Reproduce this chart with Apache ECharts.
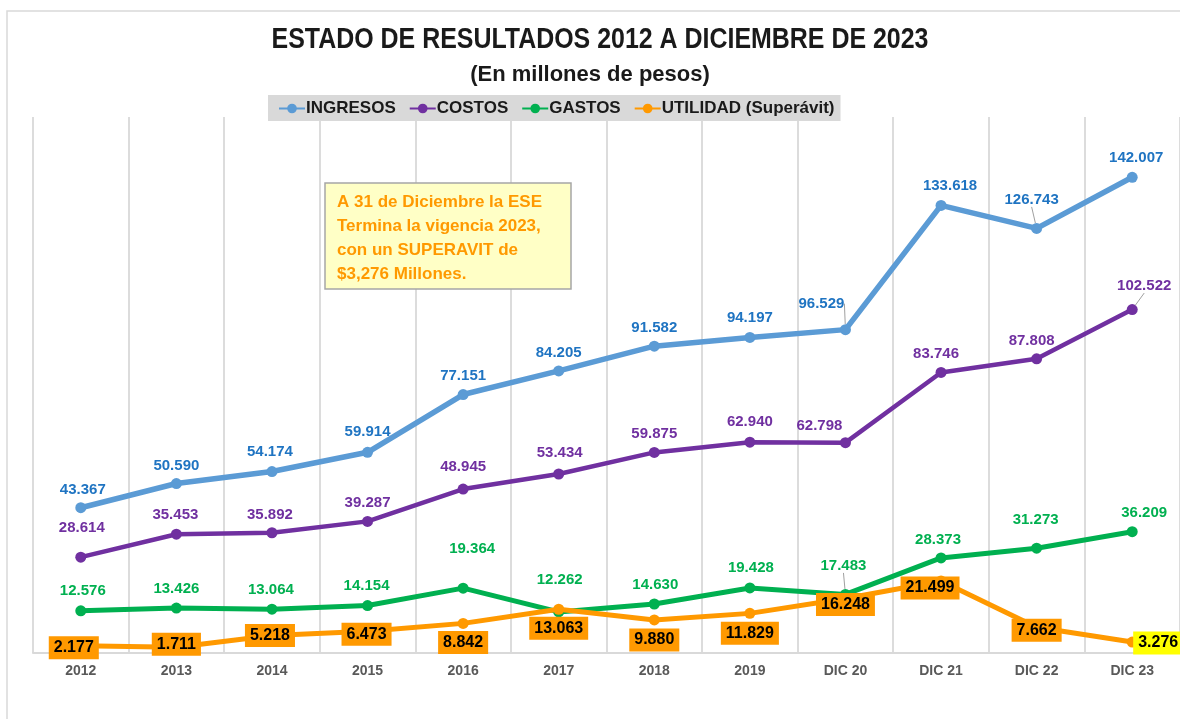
<!DOCTYPE html>
<html>
<head>
<meta charset="utf-8">
<script src="https://cdn.jsdelivr.net/npm/echarts@6/dist/echarts.min.js"></script>
<style>
  html, body { margin: 0; padding: 0; background: #fff; }
  #chart { width: 1180px; height: 719px; }
</style>
</head>
<body>
<div id="chart"></div>
<script>
const years = ["2012", "2013", "2014", "2015", "2016", "2017", "2018", "2019", "DIC 20", "DIC 21", "DIC 22", "DIC 23"];
const ingresos = [43367, 50590, 54174, 59914, 77151, 84205, 91582, 94197, 96529, 133618, 126743, 142007];
const costos = [28614, 35453, 35892, 39287, 48945, 53434, 59875, 62940, 62798, 83746, 87808, 102522];
const gastos = [12576, 13426, 13064, 14154, 19364, 12262, 14630, 19428, 17483, 28373, 31273, 36209];
const utilidad = [2177, 1711, 5218, 6473, 8842, 13063, 9880, 11829, 16248, 21499, 7662, 3276];

// label offsets (label centre minus point), px
const ingresosOff = [[2,-18],[0,-18],[-2,-20],[0,-20],[0,-19],[0,-18],[0,-18],[0,-20],[-24,-26],[9,-20],[-5,-29],[4,-19]];
const costosOff = [[1,-29],[-1,-19],[-2,-18],[0,-19],[0,-22],[1,-21],[0,-19],[0,-20],[-26,-17],[-5,-19],[-5,-18],[12,-24]];
const gastosOff = [[2,-20],[0,-19],[-1,-19],[-1,-20],[9,-39],[1,-32],[1,-19],[1,-20],[-2,-29],[-3,-18],[-1,-28],[12,-19]];
const utilidadOff = [[-7,2],[0,-3],[-2,0],[-1,3],[0,19],[0,19],[0,20],[0,20],[0,6],[-11,7],[0,3],[26,1]];
// points whose label has a leader line
const ingresosLeader = [8, 10];
const costosLeader = [11];
const gastosLeader = [8];

const FONT = "Liberation Sans, Arial, sans-serif";

function fmt(v) {
  return String(v).replace(/\B(?=(\d{3})+(?!\d))/g, ".");
}

function withLeaders(data, leaders) {
  return data.map((v, i) => leaders.includes(i)
    ? { value: v, labelLine: { show: true, lineStyle: { color: "#A0A0A0", width: 1 } } }
    : v);
}

function makeSeries(name, data, color, labelColor, offs, width, extra) {
  return Object.assign({
    name,
    type: "line",
    data,
    symbol: "circle",
    symbolSize: 11,
    lineStyle: { color, width },
    itemStyle: { color },
    label: {
      show: true,
      position: "inside",
      formatter: (p) => fmt(p.value),
      color: labelColor,
      fontFamily: FONT,
      fontWeight: "bold",
      fontSize: 15
    },
    labelLayout: (p) => ({ dx: offs[p.dataIndex][0], dy: offs[p.dataIndex][1] }),
    labelLine: { show: false },
    z: 3
  }, extra || {});
}

const chart = echarts.init(document.getElementById("chart"));
const option = {
  animation: false,
  backgroundColor: "#fff",
  title: {
    text: "(En millones de pesos)",
    left: "center",
    top: 59,
    textStyle: { fontFamily: FONT, fontWeight: "bold", fontSize: 22, color: "#1a1a1a" }
  },
  legend: {
    top: 95,
    left: 268,
    backgroundColor: "#D9D9D9",
    padding: [5, 6, 4, 10],
    itemGap: 13,
    itemWidth: 26,
    itemHeight: 12,
    textStyle: { fontFamily: FONT, fontWeight: "bold", fontSize: 17, color: "#1a1a1a", padding: [0, 0, 0, -4] },
    data: ["INGRESOS", "COSTOS", "GASTOS", "UTILIDAD (Superávit)"]
  },
  grid: { left: 33, right: -12, top: 117, bottom: 66 },
  xAxis: {
    type: "category",
    data: years,
    boundaryGap: true,
    axisLine: { show: true, lineStyle: { color: "#D9D9D9", width: 2 } },
    axisTick: { show: false },
    axisLabel: { color: "#595959", fontFamily: FONT, fontWeight: "bold", fontSize: 14, margin: 11 },
    splitLine: { show: true, lineStyle: { color: "#DCDCDC", width: 2 } }
  },
  yAxis: {
    type: "value",
    min: 0,
    max: 160000,
    show: false,
    splitLine: { show: false }
  },
  graphic: [
    {
      type: "rect",
      shape: { x: 7, y: 11, width: 1200, height: 720 },
      style: { fill: "none", stroke: "#D9D9D9", lineWidth: 1.5 },
      z: -10,
      silent: true
    },
    {
      type: "text",
      x: 600,
      y: 40,
      scaleX: 0.86,
      style: {
        text: "ESTADO DE RESULTADOS 2012 A DICIEMBRE DE 2023",
        fill: "#1a1a1a",
        font: "bold 29px " + FONT,
        align: "center",
        verticalAlign: "middle"
      }
    },
    {
      type: "rect",
      z: 100,
      shape: { x: 325, y: 183, width: 246, height: 106 },
      style: { fill: "#FFFFC6", stroke: "#A6A6A6", lineWidth: 1.5 }
    },
    {
      type: "text",
      z: 101,
      x: 337,
      y: 190,
      style: {
        text: "A 31 de Diciembre la ESE\nTermina la vigencia 2023,\ncon un SUPERAVIT de\n$3,276 Millones.",
        fill: "#FF9900",
        font: "bold 17px " + FONT,
        lineHeight: 24
      }
    }
  ],
  series: [
    makeSeries("INGRESOS", withLeaders(ingresos, ingresosLeader), "#5B9BD5", "#1F74C2", ingresosOff, 5.5),
    makeSeries("COSTOS", withLeaders(costos, costosLeader), "#7030A0", "#7030A0", costosOff, 4.5),
    makeSeries("GASTOS", withLeaders(gastos, gastosLeader), "#00B050", "#00B050", gastosOff, 5),
    makeSeries("UTILIDAD (Superávit)", utilidad.map((v, i) => i === utilidad.length - 1
      ? { value: v, label: { backgroundColor: "#FFFF00" } } : v),
      "#FF9900", "#000", utilidadOff, 5,
      {
        label: {
          show: true,
          position: "inside",
          formatter: (p) => fmt(p.value),
          color: "#000",
          fontFamily: FONT,
          fontWeight: "bold",
          fontSize: 16,
          backgroundColor: "#FF9900",
          padding: [4, 5, 3, 5]
        },
        z: 4
      })
  ]
};
chart.setOption(option);
</script>
</body>
</html>
